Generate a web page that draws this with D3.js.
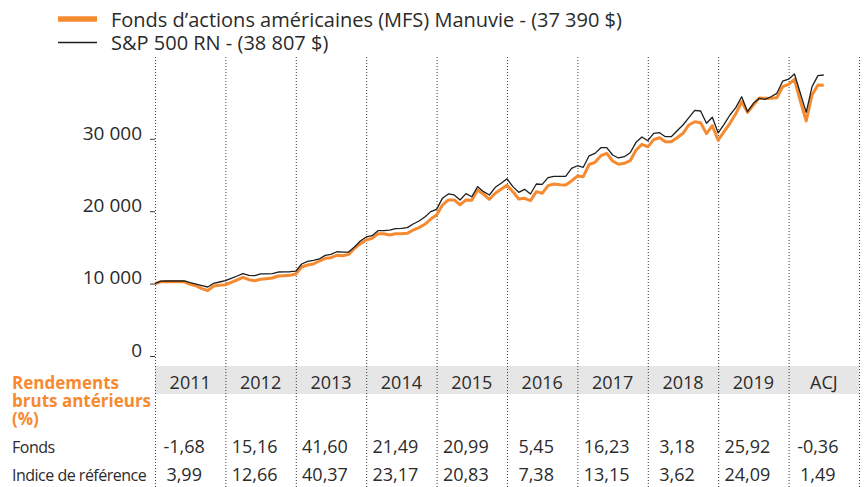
<!DOCTYPE html>
<html>
<head>
<meta charset="utf-8">
<script src="https://d3js.org/d3.v7.min.js"></script>
<style>
    body { margin: 0; background: #fff; }
    #chart-area text { font-family: "Open Sans", "Noto Sans", sans-serif; fill: #2b2b2b; }
    .dotted { stroke: #3a3a3a; stroke-width: 1; stroke-dasharray: 1,2; }
    .y-axis path { display: none; }
    .y-axis line { stroke: #3a3a3a; }
</style>
</head>
<body>
<div id="chart-area"></div>
<script>

// growth of 10 000 $, month ends from Dec 2010 to Jun 2020
let fundValues = [
    10000, 10260, 10250, 10250, 10240, 10250, 9900, 9680, 9300, 9020, 9670, 9760,
    9840, 10180, 10500, 10870, 10540, 10400, 10590, 10680, 10770, 11050, 11090, 11140,
    11330, 12290, 12570, 12710, 13120, 13490, 13580, 13900, 13850, 14040, 14870, 15510,
    16030, 16250, 16890, 16890, 16710, 16890, 16890, 16940, 17400, 17730, 18190, 18920,
    19480, 20850, 21550, 21550, 20860, 21550, 21500, 22930, 22330, 21640, 22470, 23020,
    23570, 22700, 21690, 21780, 21450, 22700, 22470, 23530, 23760, 23660, 23620, 24170,
    24850, 24770, 26450, 26750, 27670, 27990, 26930, 26480, 26620, 26980, 28450, 29240,
    28890, 29880, 30150, 29600, 29600, 30150, 30760, 31910, 32360, 32230, 30710, 31810,
    29800, 30980, 32140, 33450, 35120, 33650, 34670, 35640, 35590, 35590, 35680, 37200,
    37530, 38210, 35220, 32460, 36050, 37430, 37390
];

let indexValues = [
    10000, 10330, 10360, 10360, 10360, 10360, 10120, 9920, 9720, 9530, 10040, 10220,
    10400, 10730, 11050, 11370, 11140, 11090, 11330, 11330, 11370, 11600, 11620, 11640,
    11710, 12710, 13080, 13210, 13400, 13900, 14040, 14400, 14360, 14360, 15050, 15880,
    16440, 16620, 17310, 17310, 17400, 17590, 17640, 17730, 18230, 18650, 19200, 19940,
    20250, 21800, 22380, 22240, 21550, 22420, 22000, 23390, 22700, 22240, 23300, 23850,
    24470, 23390, 22610, 23020, 22380, 23760, 23710, 24630, 24820, 24820, 24820, 25920,
    26280, 26060, 27650, 27990, 28770, 28770, 27760, 27350, 27530, 28080, 29510, 30250,
    29740, 30760, 30840, 30290, 30290, 31120, 31910, 32920, 33930, 33840, 32140, 32970,
    30810, 32000, 33290, 34300, 35810, 33740, 34900, 35590, 35450, 35810, 36280, 37980,
    38240, 38950, 36300, 33650, 37200, 38720, 38810
];

let periods = ["2011", "2012", "2013", "2014", "2015", "2016", "2017", "2018", "2019", "ACJ"];
let fundReturns = ["-1,68", "15,16", "41,60", "21,49", "20,99", "5,45", "16,23", "3,18", "25,92", "-0,36"];
let indexReturns = ["3,99", "12,66", "40,37", "23,17", "20,83", "7,38", "13,15", "3,62", "24,09", "1,49"];
let yTicks = [0, 10000, 20000, 30000];

let legendLabels = ["Fonds d\u2019actions américaines (MFS) Manuvie - (37 390 $)", "S&P 500 RN - (38 807 $)"];
let rowLabels = ["Fonds", "Indice de référence"];
let headerLines = ["Rendements", "bruts antérieurs", "(%)"];


class GrowthChart {

    constructor(_parentElement) {
        this.parentElement = _parentElement;
        this.initVis();
    }

    initVis() {
        let vis = this;

        vis.width = 867;
        vis.height = 487;
        vis.orange = "#f68a31";

        vis.svg = d3.select("#" + vis.parentElement).append("svg")
            .attr("width", vis.width)
            .attr("height", vis.height);

        // one column = 12 months
        vis.x = d3.scaleLinear()
            .domain([0, periods.length * 12])
            .range([155, 859]);

        vis.y = d3.scaleLinear()
            .domain([0, 30000])
            .range([356, 138.8]);

        vis.fr = d3.formatLocale({ decimal: ",", thousands: "\u00a0", grouping: [3], currency: ["", " $"] });

        // grey header band of the table
        vis.svg.append("rect")
            .attr("x", vis.x(0))
            .attr("y", 366)
            .attr("width", vis.x(periods.length * 12) - vis.x(0))
            .attr("height", 28)
            .attr("fill", "#e6e6e6");

        // dotted column separators
        vis.svg.selectAll(".dotted")
            .data(d3.range(periods.length + 1))
            .enter().append("line")
            .attr("class", "dotted")
            .attr("x1", d => vis.x(d * 12) + 0.5)
            .attr("x2", d => vis.x(d * 12) + 0.5)
            .attr("y1", 57)
            .attr("y2", vis.height);

        vis.yAxis = d3.axisLeft(vis.y)
            .tickValues(yTicks)
            .tickSize(5)
            .tickPadding(8)
            .tickFormat(vis.fr.format(","));

        vis.svg.append("g")
            .attr("class", "y-axis")
            .attr("transform", "translate(" + vis.x(0) + ",0)")
            .call(vis.yAxis);

        vis.svg.selectAll(".y-axis text")
            .attr("dy", "0.02em")
            .style("font-size", "19px");

        vis.line = d3.line()
            .x((d, i) => vis.x(i))
            .y(d => vis.y(d));

        vis.svg.append("path")
            .datum(fundValues)
            .attr("fill", "none")
            .attr("stroke", vis.orange)
            .attr("stroke-width", 3)
            .attr("stroke-linejoin", "round")
            .attr("d", vis.line);

        vis.svg.append("path")
            .datum(indexValues)
            .attr("fill", "none")
            .attr("stroke", "#1e1e1e")
            .attr("stroke-width", 1.3)
            .attr("stroke-linejoin", "round")
            .attr("d", vis.line);

        // legend
        let legend = vis.svg.append("g")
            .attr("class", "legend");

        legend.selectAll("line")
            .data(legendLabels)
            .enter().append("line")
            .attr("x1", 58)
            .attr("x2", 97)
            .attr("y1", (d, i) => 19 + i * 23.5)
            .attr("y2", (d, i) => 19 + i * 23.5)
            .attr("stroke", (d, i) => i === 0 ? vis.orange : "#1e1e1e")
            .attr("stroke-width", (d, i) => i === 0 ? 5.5 : 1.6);

        legend.selectAll("text")
            .data(legendLabels)
            .enter().append("text")
            .attr("x", 111)
            .attr("y", (d, i) => 26.5 + i * 23.5)
            .style("font-size", "20px")
            .text(d => d);

        vis.drawTable();
    }

    drawTable() {
        let vis = this;

        let colCenter = i => (vis.x(i * 12) + vis.x(i * 12 + 12)) / 2;

        vis.svg.selectAll(".period")
            .data(periods)
            .enter().append("text")
            .attr("class", "period")
            .attr("x", (d, i) => colCenter(i))
            .attr("y", 389)
            .attr("text-anchor", "middle")
            .style("font-size", "18px")
            .text(d => d);

        // orange header, one text block with three lines
        vis.svg.append("text")
            .attr("class", "header")
            .attr("y", 389)
            .style("font-size", "17px")
            .style("font-weight", "bold")
            .style("fill", vis.orange)
            .selectAll("tspan")
            .data(headerLines)
            .enter().append("tspan")
            .attr("x", 12)
            .attr("dy", (d, i) => i === 0 ? 0 : 18)
            .style("fill", vis.orange)
            .text(d => d);

        vis.svg.selectAll(".row-label")
            .data(rowLabels)
            .enter().append("text")
            .attr("class", "row-label")
            .attr("x", 12)
            .attr("y", (d, i) => 453 + i * 28)
            .style("font-size", "16px")
            .style("letter-spacing", "-0.5px")
            .text(d => d);

        [fundReturns, indexReturns].forEach(function (row, r) {
            vis.svg.selectAll(".ret-" + r)
                .data(row)
                .enter().append("text")
                .attr("class", "ret-" + r)
                .attr("x", (d, i) => colCenter(i) - 6)
                .attr("y", 453 + r * 28)
                .attr("text-anchor", "middle")
                .style("font-size", "18px")
                .text(d => d);
        });
    }
}

new GrowthChart("chart-area");

</script>
</body>
</html>
